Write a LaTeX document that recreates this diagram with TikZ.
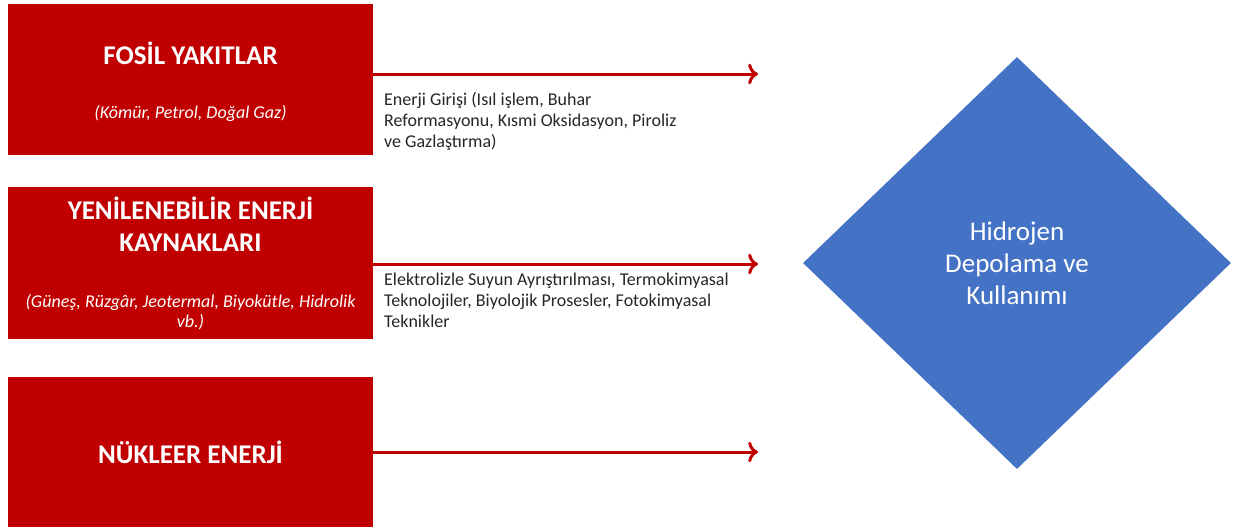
\documentclass[tikz,border=0pt]{standalone}
\usepackage{fontspec}
\setmainfont{Carlito}
\usetikzlibrary{arrows.meta,shapes.geometric}
\definecolor{kirmizi}{HTML}{C00000}
\definecolor{mavi}{HTML}{4472C4}
\tikzset{
	kaynak/.style={fill=kirmizi,minimum width=365pt,minimum height=151pt,inner sep=0pt},
	baslik/.style={text=white,font=\fontsize{27}{32}\selectfont\bfseries,align=center},
	altyazi/.style={text=white,font=\fontsize{18}{20}\selectfont\itshape,align=center},
	aciklama/.style={anchor=north west,inner sep=0pt,align=left,text=black!85,font=\fontsize{18}{21}\selectfont},
	akis/.style={draw=kirmizi,line width=3pt,-{>[scale=1.2]}},
}
\begin{document}
\begin{tikzpicture}[x=1pt,y=-1pt]
	\useasboundingbox (0,0) rectangle (1233,527);
	% kaynaklar
	\node[kaynak] (fosil) at (190.5,79.5) {};
	\node[kaynak,minimum height=152pt] (yenilenebilir) at (190.5,263) {};
	\node[kaynak,minimum height=150pt] (nukleer) at (190.5,452) {};
	\node[baslik] (fosilbaslik) at (190.5,53) {FOSİL YAKITLAR};
	\node[altyazi] (fosilalt) at (190.5,113) {(Kömür, Petrol, Doğal Gaz)};
	\node[baslik] (yenibaslik) at (190.5,224) {YENİLENEBİLİR ENERJİ\\KAYNAKLARI};
	\node[altyazi] (yenialt) at (190.5,312) {(Güneş, Rüzgâr, Jeotermal, Biyokütle, Hidrolik\\vb.)};
	\node[baslik] (nukleerbaslik) at (190.5,452) {NÜKLEER ENERJİ};
	% hedef
	\node[diamond,fill=mavi,minimum width=428pt,minimum height=412pt,inner sep=0pt,
		text=white,align=center,font=\fontsize{27}{32}\selectfont] (hidrojen) at (1017,263)
		{Hidrojen\\Depolama ve\\Kullanımı};
	% oklar
	\coordinate (u1) at (758,74);
	\coordinate (u2) at (758,264);
	\coordinate (u3) at (758,452);
	\draw[akis] (fosil.east |- u1) -- (u1);
	\draw[akis] (yenilenebilir.east |- u2) -- (u2);
	\draw[akis] (nukleer.east |- u3) -- (u3);
	\node[aciklama] (fosilyol) at (384,92) {Enerji Girişi (Isıl işlem, Buhar\\Reformasyonu, Kısmi Oksidasyon, Piroliz\\ve Gazlaştırma)};
	\node[aciklama] (yeniyol) at (384,273) {Elektrolizle Suyun Ayrıştırılması, Termokimyasal\\Teknolojiler, Biyolojik Prosesler, Fotokimyasal\\Teknikler};
\end{tikzpicture}
\end{document}
